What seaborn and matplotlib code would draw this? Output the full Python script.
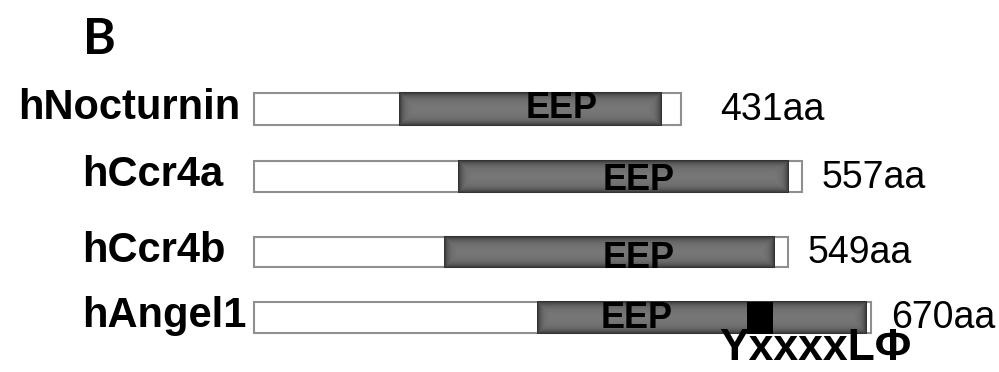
import numpy as np
import matplotlib
matplotlib.use('Agg')
import matplotlib.pyplot as plt
import seaborn as sns

# protein names and sizes
proteins = ['hNocturnin', 'hCcr4a', 'hCcr4b', 'hAngel1']
sizes = ['431aa', '557aa', '549aa', '670aa']

# drawn lengths (box start = 0)
box_len = [427, 548, 534, 617]
eep_start = [145, 204, 190, 283]
eep_end = [408, 535, 521, 613]
motif_start = 493
motif_end = 519
motif_label = 'YxxxxLΦ'

# row layout
row_y = [109, 176.5, 252, 317]
row_h = [32, 31, 30, 31]
size_x = [466, 568, 554, 637]
eep_text_x = [308, 385, 385, 383]
eep_text_y = [108, 180, 259, 319]

sns.set_style('white')
plt.rcParams['font.family'] = ['Liberation Sans', 'DejaVu Sans']
plt.rcParams['text.color'] = 'black'

fig = plt.figure(figsize=(9.99, 3.72), dpi=100)
ax = fig.add_axes([0, 0, 1, 1])

# outer boxes
ax.barh(row_y, box_len, height=row_h, left=0, color='white',
        edgecolor='#8f8f8f', linewidth=1.5, zorder=1)


def shade(w, h):
    # dark edges, lighter middle
    xs = np.arange(w)
    ys = np.arange(h)
    dx = np.minimum(xs, w - 1 - xs)[None, :]
    dy = np.minimum(ys, h - 1 - ys)[:, None]
    edge = np.maximum(np.exp(-dx / 4.0), np.exp(-dy / 4.0))
    return 0.47 - 0.27 * edge


# EEP domains with shading
for i in range(len(proteins)):
    w = int(eep_end[i] - eep_start[i])
    h = int(row_h[i]) + 2
    img = shade(w, h)
    y0 = row_y[i] - row_h[i] / 2 - 0.5
    y1 = row_y[i] + row_h[i] / 2 + 1.5
    ax.imshow(img, cmap='gray', vmin=0, vmax=1, aspect='auto',
              interpolation='bilinear',
              extent=(eep_start[i], eep_end[i], y1, y0), zorder=2)
    ax.text(eep_text_x[i], eep_text_y[i], 'EEP', fontsize=26, fontweight='bold',
            ha='center', va='center', zorder=4)

# YxxxxLPhi motif in hAngel1
ax.barh(row_y[3] + 0.5, motif_end - motif_start, height=row_h[3] + 1,
        left=motif_start, color='black', linewidth=0, zorder=3)
ax.text((motif_start + motif_end) / 2 + 55, 349, motif_label, fontsize=32,
        fontweight='bold', ha='center', va='center')

# protein names
ax.text(-14, 108, proteins[0], fontsize=30, fontweight='bold', ha='right', va='center')
for i in range(1, len(proteins)):
    ax.text(-172, row_y[i] - 1, proteins[i], fontsize=30, fontweight='bold',
            ha='left', va='center')

# lengths
for i in range(len(sizes)):
    ax.text(size_x[i], row_y[i] + 1, sizes[i], fontsize=27, ha='left', va='center')

# panel letter
ax.text(-155, 40, 'B', fontsize=36, fontweight='bold', ha='center', va='center',
        family=['Lato', 'DejaVu Sans'])

ax.set_xlim(-254, 745)
ax.set_ylim(372, 0)
ax.axis('off')

fig.savefig('out.png', dpi=100)
